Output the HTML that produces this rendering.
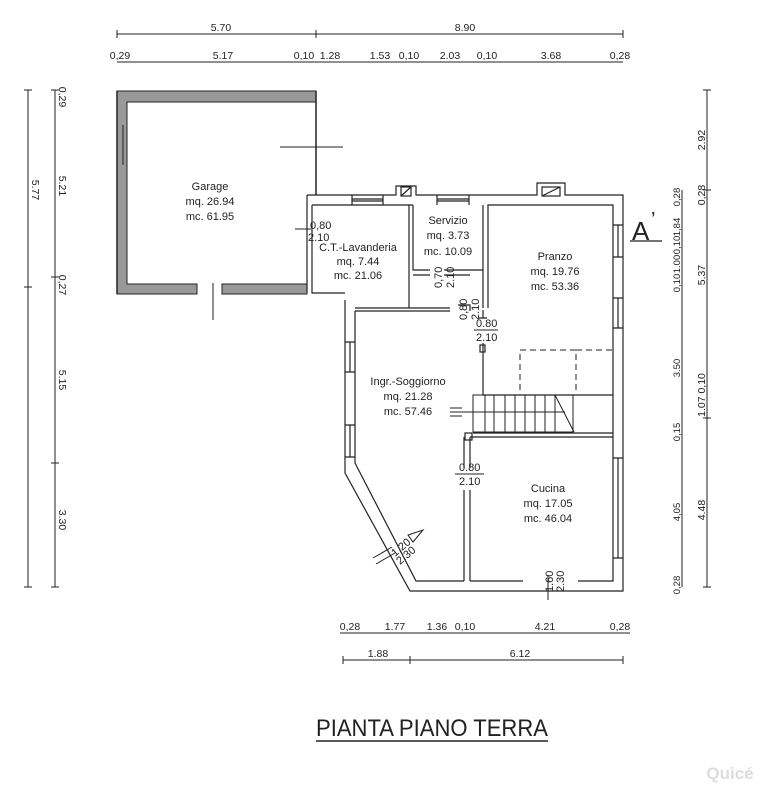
<!DOCTYPE html>
<html><head><meta charset="utf-8"><style>
html,body{margin:0;padding:0;background:#fff;}
svg{display:block;}
text{font-family:"Liberation Sans",sans-serif;fill:#222;}
</style></head><body>
<svg width="783" height="800" viewBox="0 0 783 800" xmlns="http://www.w3.org/2000/svg">
<g stroke="#222" stroke-width="1" fill="none">
<line x1="117" y1="34" x2="623" y2="34"/>
<line x1="117" y1="30" x2="117" y2="38"/><line x1="316" y1="30" x2="316" y2="38"/><line x1="623" y1="30" x2="623" y2="38"/>
<line x1="117" y1="62" x2="623" y2="62"/>
<line x1="28" y1="90" x2="28" y2="587"/><line x1="24" y1="90" x2="32" y2="90"/><line x1="24" y1="287" x2="32" y2="287"/><line x1="24" y1="587" x2="32" y2="587"/>
<line x1="55" y1="90" x2="55" y2="587"/><line x1="51" y1="90" x2="59" y2="90"/><line x1="51" y1="277" x2="59" y2="277"/><line x1="51" y1="463" x2="59" y2="463"/><line x1="51" y1="587" x2="59" y2="587"/>
<line x1="682" y1="190" x2="682" y2="587"/>
<line x1="707" y1="90" x2="707" y2="587"/><line x1="703" y1="90" x2="711" y2="90"/><line x1="703" y1="190" x2="711" y2="190"/><line x1="703" y1="418" x2="711" y2="418"/><line x1="703" y1="587" x2="711" y2="587"/>
<line x1="340" y1="633" x2="630" y2="633"/>
<line x1="343" y1="660" x2="623" y2="660"/><line x1="343" y1="656" x2="343" y2="664"/><line x1="410" y1="656" x2="410" y2="664"/><line x1="623" y1="656" x2="623" y2="664"/>
</g>

<!-- Garage -->
<g>
<path d="M117 91 H316 V102 H127 V284 H197 V294 H117 Z" fill="#999" stroke="#222" stroke-width="1"/>
<path d="M222 284 H307 V294 H222 Z" fill="#999" stroke="#222" stroke-width="1"/>
<path d="M316 91 V195 M117 91 V294" stroke="#222" stroke-width="1.5" fill="none"/>
<line x1="123" y1="125" x2="123" y2="165" stroke="#222"/>
<line x1="280" y1="147" x2="343" y2="147" stroke="#222"/>
<line x1="213" y1="283" x2="213" y2="320" stroke="#222"/>
<line x1="295" y1="229" x2="311" y2="229" stroke="#222"/>
</g>

<g stroke="#222" stroke-width="1.2" fill="none">
<path d="M307 195 H396 V186 H416 V195 H537 V183 H565 V195 H623 V591 H410 L345 473 V300 H345"/>
<path d="M307 195 V293"/>
<path d="M312 205 H409 V308"/>
<path d="M312 205 V293 H345"/>
<path d="M355 308 H450 M355 311 H450"/>
<path d="M355 311 V463 L416 581 H464"/>
<path d="M470 581 H523 M578 581 H613 V205 H488 V308"/>
<path d="M483 343 V395 H613"/>
<path d="M483 205 V308"/>
<path d="M413 205 V270 H430 M444 270 H483 M413 275 H430 M444 275 H470"/>
<path d="M409 205 H413"/>
<path d="M458 305 H470 V311 M483 310 V318 M479 318 H487"/>
<path d="M473 433 H613 M470 437 H613"/>
<path d="M464 437 V468 M470 437 V468 M464 490 V581 M470 490 V581"/>
<rect x="465" y="433" width="7" height="7"/>
<rect x="480" y="345" width="5" height="7"/>
<path d="M352 195 V205 M383 195 V205 M352 199 H383 M352 201 H383"/>
<path d="M437 195 V205 M469 195 V205 M437 199 H469 M437 201 H469"/>
<path d="M613 225 H623 M613 257 H623 M618 225 V257"/>
<path d="M613 298 H623 M613 328 H623 M618 298 V328"/>
<path d="M613 458 H623 M613 558 H623 M618 458 V558"/>
<path d="M345 342 H355 M345 372 H355 M350 342 V372"/>
<path d="M345 425 H355 M345 457 H355 M350 425 V457"/>
<rect x="401" y="187" width="10" height="9"/>
<line x1="401" y1="196" x2="411" y2="187"/>
<rect x="542" y="187" width="18" height="9"/>
<line x1="542" y1="196" x2="560" y2="187"/>
</g>
<g stroke="#222" stroke-width="1" fill="none">
<rect x="473" y="395" width="100" height="37"/>
<line x1="485" y1="395" x2="485" y2="432"/><line x1="494" y1="395" x2="494" y2="432"/><line x1="505" y1="395" x2="505" y2="432"/><line x1="515" y1="395" x2="515" y2="432"/><line x1="525" y1="395" x2="525" y2="432"/><line x1="535" y1="395" x2="535" y2="432"/><line x1="545" y1="395" x2="545" y2="432"/><line x1="555" y1="395" x2="555" y2="432"/>
<line x1="555" y1="395" x2="574" y2="432"/>
<line x1="450" y1="412" x2="565" y2="412"/>
<line x1="450" y1="408" x2="462" y2="408"/><line x1="450" y1="416" x2="462" y2="416"/>
<path d="M520 390 V350 H576 V390 M576 350 H613" stroke-dasharray="6,4"/>
<path d="M373 558 L392 547 M376 564 L395 553"/>
<path d="M408 535 L423 530 L413 542 Z"/>
<line x1="548" y1="575" x2="548" y2="600"/>
</g>

<g font-size="10.5">
<text x="221" y="31" text-anchor="middle">5.70</text>
<text x="465" y="31" text-anchor="middle">8.90</text>
<text x="120" y="59" text-anchor="middle">0,29</text>
<text x="223" y="59" text-anchor="middle">5.17</text>
<text x="304" y="59" text-anchor="middle">0,10</text>
<text x="330" y="59" text-anchor="middle">1.28</text>
<text x="380" y="59" text-anchor="middle">1.53</text>
<text x="409" y="59" text-anchor="middle">0,10</text>
<text x="450" y="59" text-anchor="middle">2.03</text>
<text x="487" y="59" text-anchor="middle">0,10</text>
<text x="551" y="59" text-anchor="middle">3.68</text>
<text x="620" y="59" text-anchor="middle">0,28</text>
<g transform="translate(59,0)">
<text transform="translate(0,97) rotate(90)" text-anchor="middle">0,29</text>
<text transform="translate(0,186) rotate(90)" text-anchor="middle">5.21</text>
<text transform="translate(0,285) rotate(90)" text-anchor="middle">0,27</text>
<text transform="translate(0,380) rotate(90)" text-anchor="middle">5.15</text>
<text transform="translate(0,520) rotate(90)" text-anchor="middle">3.30</text>
</g>
<text transform="translate(32,190) rotate(90)" text-anchor="middle">5.77</text>
<g transform="translate(680,0)" font-size="9.5">
<text transform="translate(0,197) rotate(-90)" text-anchor="middle">0,28</text>
<text transform="translate(0,227) rotate(-90)" text-anchor="middle">1,84</text>
<text transform="translate(0,245) rotate(-90)" text-anchor="middle">0,10</text>
<text transform="translate(0,264) rotate(-90)" text-anchor="middle">1.00</text>
<text transform="translate(0,283) rotate(-90)" text-anchor="middle">0,10</text>
<text transform="translate(0,368) rotate(-90)" text-anchor="middle">3.50</text>
<text transform="translate(0,432) rotate(-90)" text-anchor="middle">0,15</text>
<text transform="translate(0,512) rotate(-90)" text-anchor="middle">4,05</text>
<text transform="translate(0,585) rotate(-90)" text-anchor="middle">0,28</text>
</g>
<g transform="translate(705,0)">
<text transform="translate(0,140) rotate(-90)" text-anchor="middle">2.92</text>
<text transform="translate(0,195) rotate(-90)" text-anchor="middle">0,28</text>
<text transform="translate(0,275) rotate(-90)" text-anchor="middle">5.37</text>
<text transform="translate(0,395) rotate(-90)" text-anchor="middle">1.07 0,10</text>
<text transform="translate(0,510) rotate(-90)" text-anchor="middle">4.48</text>
</g>
<text x="350" y="630" text-anchor="middle">0,28</text>
<text x="395" y="630" text-anchor="middle">1.77</text>
<text x="437" y="630" text-anchor="middle">1.36</text>
<text x="465" y="630" text-anchor="middle">0,10</text>
<text x="545" y="630" text-anchor="middle">4.21</text>
<text x="620" y="630" text-anchor="middle">0,28</text>
<text x="378" y="657" text-anchor="middle">1.88</text>
<text x="520" y="657" text-anchor="middle">6.12</text>
</g>

<g font-size="11" text-anchor="middle">
<text x="210" y="190">Garage</text><text x="210" y="205">mq.  26.94</text><text x="210" y="220">mc.  61.95</text>
<text x="358" y="251">C.T.-Lavanderia</text><text x="358" y="265">mq.   7.44</text><text x="358" y="279">mc.  21.06</text>
<text x="448" y="224">Servizio</text><text x="448" y="239">mq.    3.73</text><text x="448" y="255">mc.  10.09</text>
<text x="555" y="260">Pranzo</text><text x="555" y="275">mq.  19.76</text><text x="555" y="290">mc.  53.36</text>
<text x="408" y="385">Ingr.-Soggiorno</text><text x="408" y="400">mq.  21.28</text><text x="408" y="415">mc.  57.46</text>
<text x="548" y="492">Cucina</text><text x="548" y="507">mq.  17.05</text><text x="548" y="522">mc.  46.04</text>
</g>
<g font-size="11">
<text x="310" y="229">0,80</text><text x="308" y="241">2.10</text>
<text transform="translate(442,288) rotate(-90)">0,70</text><text transform="translate(454,288) rotate(-90)">2.10</text>
<text transform="translate(467,320) rotate(-90)">0,80</text><text transform="translate(479,320) rotate(-90)">2.10</text>
<text x="476" y="327">0.80</text><text x="476" y="341">2.10</text>
<line x1="474" y1="330" x2="498" y2="330" stroke="#222"/>
<text x="459" y="471">0.80</text><text x="459" y="485">2.10</text>
<line x1="455" y1="474" x2="484" y2="474" stroke="#222"/>
<text transform="translate(395,557) rotate(-40)">1.20</text><text transform="translate(400,565) rotate(-40)">2.30</text>
<text transform="translate(553,592) rotate(-90)">1.60</text><text transform="translate(564,592) rotate(-90)">2.30</text>
</g>
<text x="632" y="240" font-size="26">A</text><text x="651" y="226" font-size="20">’</text>
<line x1="630" y1="241" x2="662" y2="241" stroke="#222" stroke-width="1.2"/>
<text x="316" y="736" font-size="24" textLength="232" lengthAdjust="spacingAndGlyphs">PIANTA PIANO TERRA</text>
<line x1="316" y1="741" x2="548" y2="741" stroke="#222" stroke-width="1.5"/>
<text x="730" y="779" font-size="17" font-weight="bold" text-anchor="middle" style="fill:#ddd">Quicé</text>
</svg>
</body></html>
